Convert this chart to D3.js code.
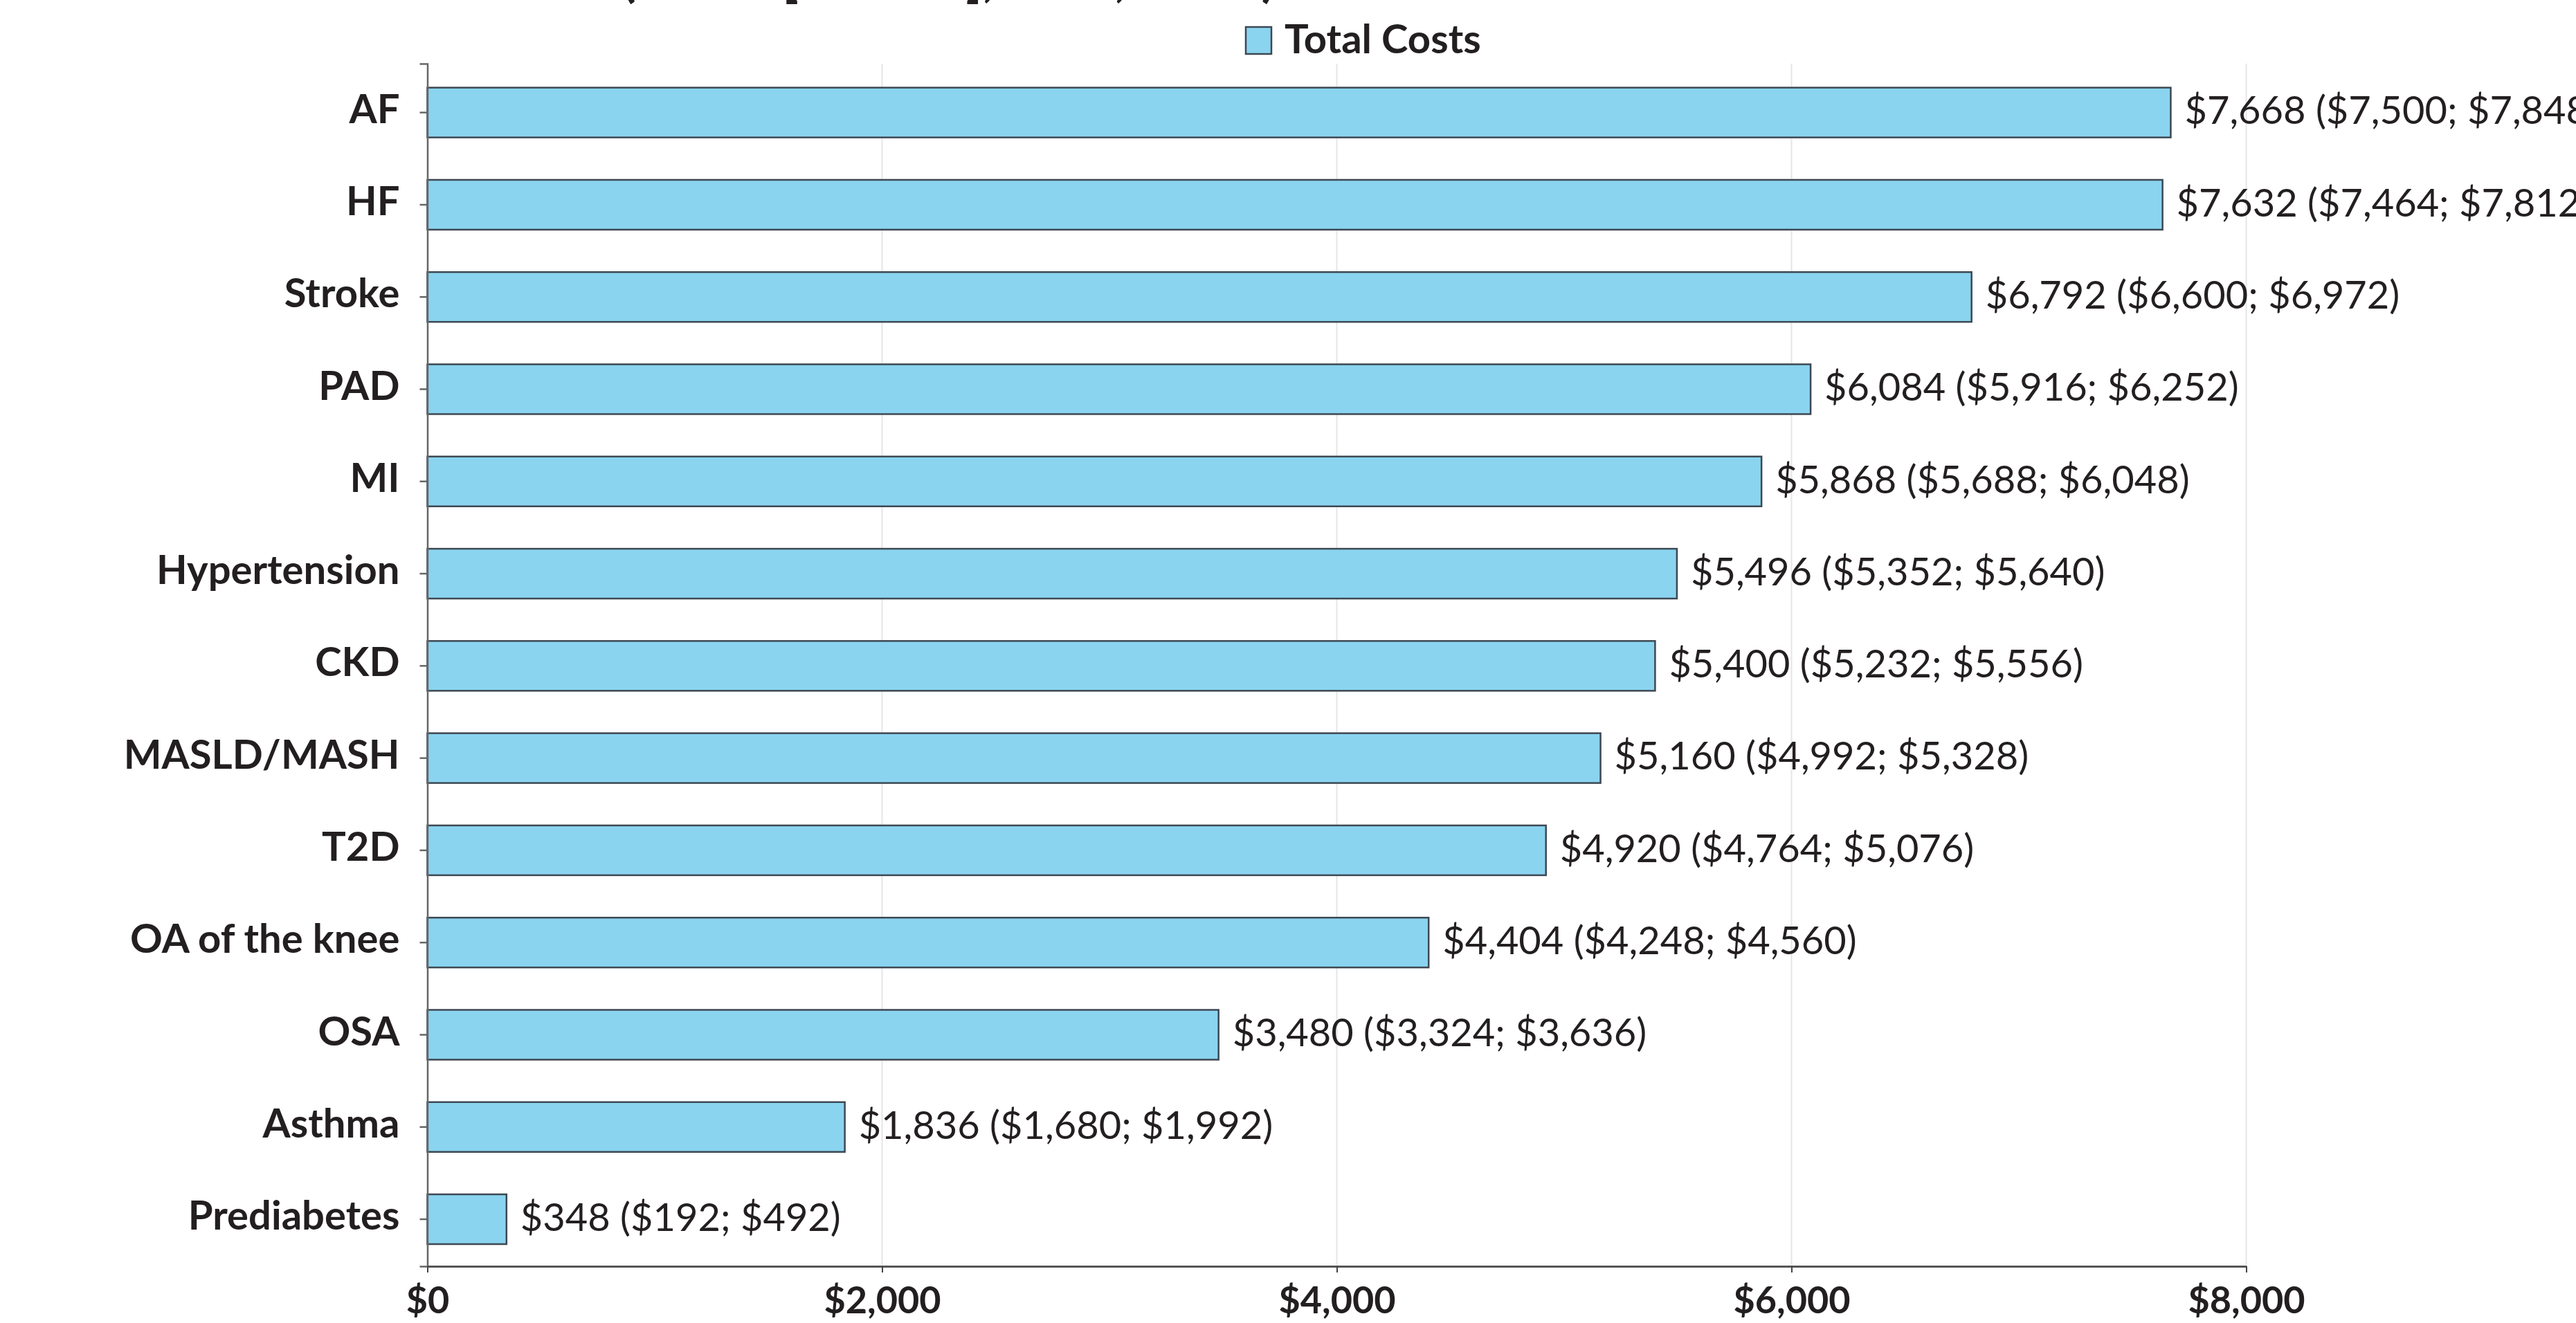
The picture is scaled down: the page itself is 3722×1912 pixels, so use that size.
<!DOCTYPE html>
<html>
<head>
<meta charset="utf-8">
<script src="https://cdn.jsdelivr.net/npm/d3@7"></script>
<style>
  html, body { margin: 0; padding: 0; background: #fff; }
  svg { display: block; font-family: Lato, "Open Sans", sans-serif; }
</style>
</head>
<body>
<svg id="chart" width="3722" height="1912"></svg>
<script>
const categories = ["AF", "HF", "Stroke", "PAD", "MI", "Hypertension", "CKD", "MASLD/MASH", "T2D", "OA of the knee", "OSA", "Asthma", "Prediabetes"];
const totalCosts = [7668, 7632, 6792, 6084, 5868, 5496, 5400, 5160, 4920, 4404, 3480, 1836, 348];
const lowerCI = [7500, 7464, 6600, 5916, 5688, 5352, 5232, 4992, 4764, 4248, 3324, 1680, 192];
const upperCI = [7848, 7812, 6972, 6252, 6048, 5640, 5556, 5328, 5076, 4560, 3636, 1992, 492];
const xTicks = [0, 2000, 4000, 6000, 8000];
const seriesName = "Total Costs";
const titleLine = "(Mean [95% CI], USD, 2023)";

const svg = d3.select("#chart");
const fill = "#8ad4f0";
const stroke = "#3d4852";

const x = d3.scaleLinear().domain([0, 8000]).range([617.5, 3245.5]);
const y = d3.scaleBand().domain(categories).range([92, 1830]).paddingInner(0.46).paddingOuter(0.25).align(0.52);

const fmt = d3.format("$,.0f");

// title (mostly out of view at top, as in the reference)
svg.append("text").attr("x", 898).attr("y", -6)
  .attr("font-size", 76).attr("font-weight", 700).attr("fill", "#231f20")
  .text(titleLine);

// gridlines
svg.append("g").selectAll("line").data(xTicks.filter(d => d > 0)).join("line")
  .attr("x1", d => x(d)).attr("x2", d => x(d))
  .attr("y1", 92).attr("y2", 1830)
  .attr("stroke", "#e6e6e6").attr("stroke-width", 2);

// bars
svg.append("g").selectAll("rect").data(categories).join("rect")
  .attr("x", x(0))
  .attr("y", d => y(d))
  .attr("width", (d, i) => x(totalCosts[i]) - x(0))
  .attr("height", y.bandwidth())
  .attr("fill", fill).attr("stroke", stroke).attr("stroke-width", 2.5);

// value labels
svg.append("g").selectAll("text").data(categories).join("text")
  .attr("x", (d, i) => x(totalCosts[i]) + 20)
  .attr("y", d => y(d) + y.bandwidth() / 2)
  .attr("dy", "0.3em")
  .attr("font-size", 56).attr("font-weight", 400).attr("fill", "#231f20")
  .text((d, i) => `${fmt(totalCosts[i])} (${fmt(lowerCI[i])}; ${fmt(upperCI[i])})`);

// y axis
const yAxis = svg.append("g").attr("transform", `translate(${x(0)},0)`)
  .call(d3.axisLeft(y).tickSize(11).tickPadding(29));
yAxis.select(".domain").attr("stroke", "#666").attr("stroke-width", 2.5);
yAxis.selectAll(".tick line").attr("stroke", "#666").attr("stroke-width", 2.5);
yAxis.selectAll(".tick text").attr("dy", "0.26em").attr("font-size", 58).attr("font-weight", 700)
  .attr("fill", "#231f20").attr("font-family", "Lato, sans-serif");

// x axis
const xAxis = svg.append("g").attr("transform", "translate(0,1830)")
  .call(d3.axisBottom(x).tickValues(xTicks).tickFormat(fmt).tickSize(9).tickSizeOuter(0));
xAxis.select(".domain").attr("stroke", "#555").attr("stroke-width", 3);
xAxis.selectAll(".tick line").attr("stroke", "#444").attr("stroke-width", 2);
xAxis.selectAll(".tick text").attr("y", 68).attr("dy", 0)
  .attr("font-size", 54).attr("font-weight", 700)
  .attr("fill", "#231f20").attr("font-family", "Lato, sans-serif");

// legend
const lg = svg.append("g");
lg.append("rect").attr("x", 1800).attr("y", 39).attr("width", 37).attr("height", 39)
  .attr("fill", fill).attr("stroke", stroke).attr("stroke-width", 2.5);
lg.append("text").attr("x", 1856).attr("y", 77)
  .attr("font-size", 58).attr("font-weight", 700).attr("fill", "#231f20")
  .text(seriesName);
</script>
</body>
</html>
